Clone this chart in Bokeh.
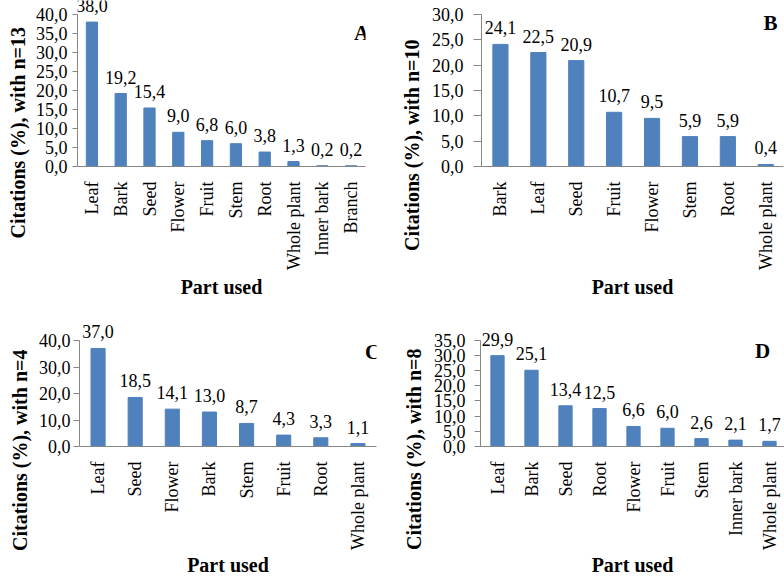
import math
from bokeh.plotting import figure
from bokeh.models import Range1d, FixedTicker, ColumnDataSource, LabelSet, Label, Title
from bokeh.layouts import column, row
from bokeh.embed import file_html
from bokeh.resources import INLINE

# ---------------- data ----------------
cats_a = ["Leaf", "Bark", "Seed", "Flower", "Fruit", "Stem", "Root", "Whole plant", "Inner bark", "Branch"]
vals_a = [38.0, 19.2, 15.4, 9.0, 6.8, 6.0, 3.8, 1.3, 0.2, 0.2]
ticks_a = [0, 5, 10, 15, 20, 25, 30, 35, 40]
title_a = "Citations (%), with n=13"

cats_b = ["Bark", "Leaf", "Seed", "Fruit", "Flower", "Stem", "Root", "Whole plant"]
vals_b = [24.1, 22.5, 20.9, 10.7, 9.5, 5.9, 5.9, 0.4]
ticks_b = [0, 5, 10, 15, 20, 25, 30]
title_b = "Citations (%), with n=10"

cats_c = ["Leaf", "Seed", "Flower", "Bark", "Stem", "Fruit", "Root", "Whole plant"]
vals_c = [37.0, 18.5, 14.1, 13.0, 8.7, 4.3, 3.3, 1.1]
ticks_c = [0, 10, 20, 30, 40]
title_c = "Citations (%), with n=4"

cats_d = ["Leaf", "Bark", "Seed", "Root", "Flower", "Fruit", "Stem", "Inner bark", "Whole plant"]
vals_d = [29.9, 25.1, 13.4, 12.5, 6.6, 6.0, 2.6, 2.1, 1.7]
ticks_d = [0, 5, 10, 15, 20, 25, 30, 35]
title_d = "Citations (%), with n=8"

x_title = "Part used"
letters = ["A", "B", "C", "D"]

FONT = "Liberation Serif"
BAR = "#4F81BD"
AXIS = "#868686"


def fmt(v):
    return f"{v:.1f}".replace(".", ",")


def panel(cats, vals, yticks, ytitle, letter, width, height, mb_left, mb_right,
          mb_bottom, y_end, x_end, bar_w, tick_out, tick_standoff,
          ytitle_offset, ytitle_standoff, xlabel_standoff, letter_xy):
    p = figure(width=width, height=height, output_backend="svg", toolbar_location=None,
               x_range=Range1d(-0.5, x_end), y_range=Range1d(0, y_end),
               min_border_left=mb_left, min_border_right=mb_right,
               min_border_top=0, min_border_bottom=mb_bottom)
    p.outline_line_color = None
    p.background_fill_color = "white"
    p.border_fill_color = "white"
    p.xgrid.visible = False
    p.ygrid.visible = False

    xs = list(range(len(cats)))
    src = ColumnDataSource(dict(x=xs, top=vals, label=[fmt(v) for v in vals]))
    p.vbar(x="x", top="top", width=bar_w, source=src, fill_color=BAR, line_color=BAR)

    p.add_layout(LabelSet(x="x", y="top", text="label", source=src, text_align="center",
                          text_baseline="alphabetic", y_offset=10, text_font=FONT,
                          text_font_size="18px", text_color="black"))

    xa = p.xaxis[0]
    xa.ticker = FixedTicker(ticks=xs)
    xa.major_label_overrides = {i: c for i, c in enumerate(cats)}
    xa.major_label_orientation = math.pi / 2
    xa.major_label_text_font = FONT
    xa.major_label_text_font_size = "18px"
    xa.major_label_text_color = "black"
    xa.major_label_standoff = 9
    xa.major_tick_line_color = None
    xa.minor_tick_line_color = None
    xa.axis_line_color = AXIS
    xa.axis_label = x_title
    xa.axis_label_text_font = FONT
    xa.axis_label_text_font_size = "20px"
    xa.axis_label_text_font_style = "bold"
    xa.axis_label_text_color = "black"
    xa.axis_label_standoff = xlabel_standoff

    ya = p.yaxis[0]
    ya.bounds = (0, yticks[-1])
    ya.ticker = FixedTicker(ticks=yticks)
    ya.major_label_overrides = {t: fmt(t) for t in yticks}
    ya.major_label_text_font = FONT
    ya.major_label_text_font_size = "18px"
    ya.major_label_text_color = "black"
    ya.major_label_standoff = tick_standoff
    ya.major_tick_out = tick_out
    ya.major_tick_in = 0
    ya.major_tick_line_color = AXIS
    ya.minor_tick_line_color = None
    ya.axis_line_color = AXIS

    p.add_layout(Title(text=ytitle, align="left", offset=ytitle_offset,
                       standoff=ytitle_standoff, text_font=FONT, text_font_size="20px",
                       text_font_style="bold", text_color="black"), "left")
    p.add_layout(Label(x=letter_xy[0], y=letter_xy[1], x_units="screen", y_units="screen",
                       text=letter, text_align="center", text_baseline="middle",
                       text_font=FONT, text_font_size="21px", text_font_style="bold",
                       text_color="black"))
    return p


pA = panel(cats_a, vals_a, ticks_a, title_a, letters[0], 392, 300, 77, 27, 134,
           40 + 14 / 3.8, 9.5, 0.39, 5, 5, -72, 8, 3, (284, 134))
pB = panel(cats_b, vals_b, ticks_b, title_b, letters[1], 392, 300, 89, 1, 134,
           30 + 14 / (152 / 30), -0.5 + 302 / 37.9, 0.4, 8, 10, -84.5, 11, 3, (289, 144))
pC = panel(cats_c, vals_c, ticks_c, title_c, letters[2], 392, 278, 79, 16, 132,
           40 + 40 / 2.65, 7.5, 0.38, 6, 3, -104.5, 10, 1, (293, 95))
pD = panel(cats_d, vals_d, ticks_d, title_d, letters[3], 392, 278, 88, 0, 131,
           35 + 40 / (107.3 / 35), -0.5 + 304 / 34.0, 0.39, 6, 9, -103.5, 12, 1, (282, 96))

layout = column(row(pA, pB), row(pC, pD))
open("out.html", "w").write(file_html(layout, INLINE))
